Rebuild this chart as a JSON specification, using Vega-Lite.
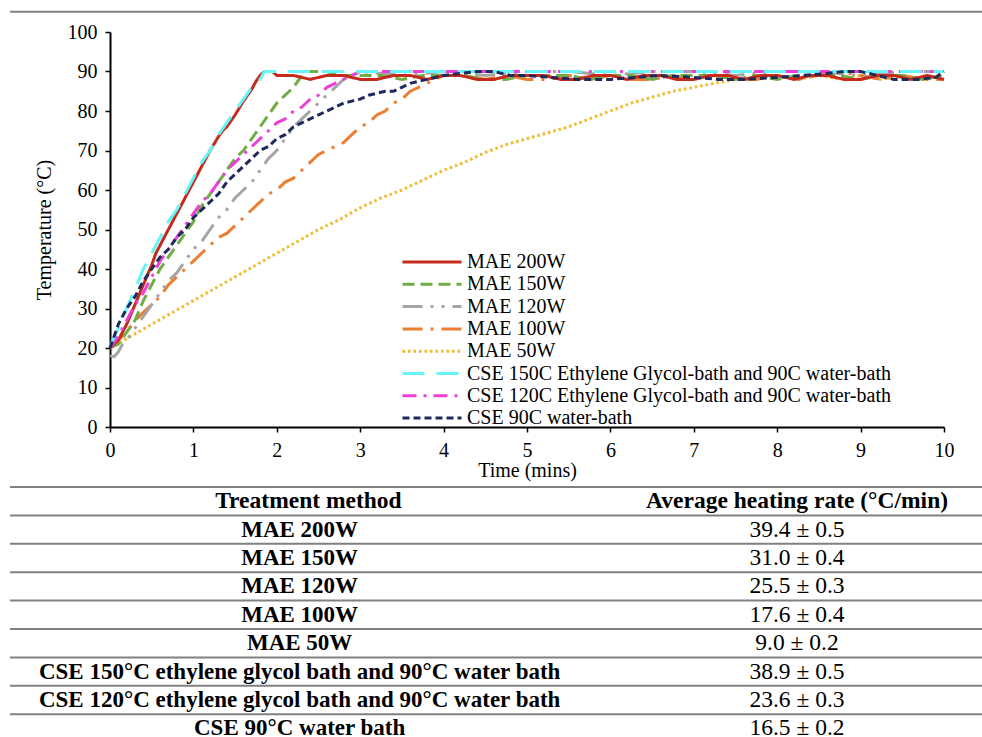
{
  "$schema": "https://vega.github.io/schema/vega-lite/v6.json",
  "width": 834,
  "height": 395,
  "autosize": {"type": "none"},
  "padding": {"left": 110, "top": 32, "right": 38, "bottom": 310},
  "background": "white",
  "config": {
    "font": "Liberation Serif",
    "view": {"stroke": null},
    "axis": {
      "domainColor": "black", "domainWidth": 2, "tickColor": "black", "tickWidth": 1.5, "tickSize": 5,
      "labelFont": "Liberation Serif", "labelFontSize": 20, "labelColor": "black", "labelPadding": 8, "labelFlush": false,
      "titleFont": "Liberation Serif", "titleFontSize": 20, "titleFontWeight": "normal", "titleColor": "black",
      "grid": false
    }
  },
  "datasets": {
    "curves": [
      {"series":"MAE 50W","time":0,"temp":20},{"series":"MAE 50W","time":0.25,"temp":23},{"series":"MAE 50W","time":0.5,"temp":26},{"series":"MAE 50W","time":0.75,"temp":29},{"series":"MAE 50W","time":1,"temp":32},{"series":"MAE 50W","time":1.25,"temp":35},{"series":"MAE 50W","time":1.5,"temp":38},{"series":"MAE 50W","time":1.75,"temp":41},{"series":"MAE 50W","time":2,"temp":44},{"series":"MAE 50W","time":2.25,"temp":47},{"series":"MAE 50W","time":2.5,"temp":50},{"series":"MAE 50W","time":2.75,"temp":52.5},{"series":"MAE 50W","time":3,"temp":55.5},{"series":"MAE 50W","time":3.25,"temp":58},{"series":"MAE 50W","time":3.5,"temp":60},{"series":"MAE 50W","time":3.75,"temp":62.5},{"series":"MAE 50W","time":4,"temp":65},{"series":"MAE 50W","time":4.25,"temp":67},{"series":"MAE 50W","time":4.5,"temp":69.5},{"series":"MAE 50W","time":4.75,"temp":71.5},{"series":"MAE 50W","time":5,"temp":73},{"series":"MAE 50W","time":5.25,"temp":74.5},{"series":"MAE 50W","time":5.5,"temp":76},{"series":"MAE 50W","time":5.75,"temp":78},{"series":"MAE 50W","time":6,"temp":80},{"series":"MAE 50W","time":6.25,"temp":82},{"series":"MAE 50W","time":6.5,"temp":83.5},{"series":"MAE 50W","time":6.75,"temp":85},{"series":"MAE 50W","time":7,"temp":86},{"series":"MAE 50W","time":7.25,"temp":87},{"series":"MAE 50W","time":7.5,"temp":88},{"series":"MAE 50W","time":7.75,"temp":88.5},{"series":"MAE 50W","time":8,"temp":89},{"series":"MAE 50W","time":8.25,"temp":88},{"series":"MAE 50W","time":8.5,"temp":89},{"series":"MAE 50W","time":8.75,"temp":88},{"series":"MAE 50W","time":9,"temp":89},{"series":"MAE 50W","time":9.25,"temp":88},{"series":"MAE 50W","time":9.5,"temp":89},{"series":"MAE 50W","time":9.75,"temp":88},{"series":"MAE 50W","time":10,"temp":89},

      {"series":"MAE 100W","time":0,"temp":20},{"series":"MAE 100W","time":0.1,"temp":22},{"series":"MAE 100W","time":0.2,"temp":24},{"series":"MAE 100W","time":0.3,"temp":27},{"series":"MAE 100W","time":0.4,"temp":29},{"series":"MAE 100W","time":0.5,"temp":31},{"series":"MAE 100W","time":0.6,"temp":33},{"series":"MAE 100W","time":0.7,"temp":36},{"series":"MAE 100W","time":0.8,"temp":38},{"series":"MAE 100W","time":0.9,"temp":40},{"series":"MAE 100W","time":1,"temp":42},{"series":"MAE 100W","time":1.1,"temp":44},{"series":"MAE 100W","time":1.2,"temp":46},{"series":"MAE 100W","time":1.3,"temp":48},{"series":"MAE 100W","time":1.4,"temp":49},{"series":"MAE 100W","time":1.5,"temp":51},{"series":"MAE 100W","time":1.6,"temp":53},{"series":"MAE 100W","time":1.7,"temp":55},{"series":"MAE 100W","time":1.8,"temp":57},{"series":"MAE 100W","time":1.9,"temp":59},{"series":"MAE 100W","time":2,"temp":60},{"series":"MAE 100W","time":2.1,"temp":62},{"series":"MAE 100W","time":2.2,"temp":63},{"series":"MAE 100W","time":2.3,"temp":65},{"series":"MAE 100W","time":2.4,"temp":67},{"series":"MAE 100W","time":2.5,"temp":69},{"series":"MAE 100W","time":2.6,"temp":70},{"series":"MAE 100W","time":2.7,"temp":71},{"series":"MAE 100W","time":2.8,"temp":72},{"series":"MAE 100W","time":2.9,"temp":74},{"series":"MAE 100W","time":3,"temp":76},{"series":"MAE 100W","time":3.1,"temp":77},{"series":"MAE 100W","time":3.2,"temp":79},{"series":"MAE 100W","time":3.3,"temp":80},{"series":"MAE 100W","time":3.4,"temp":82},{"series":"MAE 100W","time":3.5,"temp":83},{"series":"MAE 100W","time":3.6,"temp":85},{"series":"MAE 100W","time":3.7,"temp":86},{"series":"MAE 100W","time":3.8,"temp":87},{"series":"MAE 100W","time":3.9,"temp":88},{"series":"MAE 100W","time":4,"temp":89},{"series":"MAE 100W","time":4.25,"temp":89},{"series":"MAE 100W","time":4.5,"temp":88},{"series":"MAE 100W","time":4.75,"temp":89},{"series":"MAE 100W","time":5,"temp":88},{"series":"MAE 100W","time":5.25,"temp":88},{"series":"MAE 100W","time":5.5,"temp":89},{"series":"MAE 100W","time":5.75,"temp":88},{"series":"MAE 100W","time":6,"temp":89},{"series":"MAE 100W","time":6.25,"temp":88},{"series":"MAE 100W","time":6.5,"temp":88},{"series":"MAE 100W","time":6.75,"temp":89},{"series":"MAE 100W","time":7,"temp":88},{"series":"MAE 100W","time":7.25,"temp":89},{"series":"MAE 100W","time":7.5,"temp":88},{"series":"MAE 100W","time":7.75,"temp":88},{"series":"MAE 100W","time":8,"temp":89},{"series":"MAE 100W","time":8.25,"temp":88},{"series":"MAE 100W","time":8.5,"temp":89},{"series":"MAE 100W","time":8.75,"temp":90},{"series":"MAE 100W","time":9,"temp":89},{"series":"MAE 100W","time":9.25,"temp":88},{"series":"MAE 100W","time":9.5,"temp":89},{"series":"MAE 100W","time":9.75,"temp":88},{"series":"MAE 100W","time":10,"temp":88},

      {"series":"MAE 120W","time":0,"temp":18},{"series":"MAE 120W","time":0.05,"temp":17.8},{"series":"MAE 120W","time":0.1,"temp":19},{"series":"MAE 120W","time":0.15,"temp":21},{"series":"MAE 120W","time":0.2,"temp":22},{"series":"MAE 120W","time":0.3,"temp":25},{"series":"MAE 120W","time":0.4,"temp":28},{"series":"MAE 120W","time":0.5,"temp":31},{"series":"MAE 120W","time":0.6,"temp":34},{"series":"MAE 120W","time":0.7,"temp":37},{"series":"MAE 120W","time":0.8,"temp":39},{"series":"MAE 120W","time":0.9,"temp":42},{"series":"MAE 120W","time":1,"temp":45},{"series":"MAE 120W","time":1.1,"temp":47},{"series":"MAE 120W","time":1.2,"temp":50},{"series":"MAE 120W","time":1.3,"temp":53},{"series":"MAE 120W","time":1.4,"temp":55},{"series":"MAE 120W","time":1.5,"temp":58},{"series":"MAE 120W","time":1.6,"temp":60},{"series":"MAE 120W","time":1.7,"temp":62},{"series":"MAE 120W","time":1.8,"temp":65},{"series":"MAE 120W","time":1.9,"temp":68},{"series":"MAE 120W","time":2,"temp":70},{"series":"MAE 120W","time":2.1,"temp":73},{"series":"MAE 120W","time":2.2,"temp":76},{"series":"MAE 120W","time":2.3,"temp":78},{"series":"MAE 120W","time":2.4,"temp":80},{"series":"MAE 120W","time":2.5,"temp":82},{"series":"MAE 120W","time":2.6,"temp":84},{"series":"MAE 120W","time":2.7,"temp":86},{"series":"MAE 120W","time":2.8,"temp":88},{"series":"MAE 120W","time":2.9,"temp":89},{"series":"MAE 120W","time":3,"temp":90},{"series":"MAE 120W","time":3.5,"temp":89},{"series":"MAE 120W","time":4,"temp":90},{"series":"MAE 120W","time":4.5,"temp":89},{"series":"MAE 120W","time":5,"temp":90},{"series":"MAE 120W","time":5.5,"temp":90},{"series":"MAE 120W","time":6,"temp":89},{"series":"MAE 120W","time":6.5,"temp":90},{"series":"MAE 120W","time":7,"temp":90},{"series":"MAE 120W","time":7.5,"temp":89},{"series":"MAE 120W","time":8,"temp":90},{"series":"MAE 120W","time":8.5,"temp":90},{"series":"MAE 120W","time":9,"temp":89},{"series":"MAE 120W","time":9.5,"temp":90},{"series":"MAE 120W","time":10,"temp":90},

      {"series":"MAE 150W","time":0,"temp":20},{"series":"MAE 150W","time":0.1,"temp":21},{"series":"MAE 150W","time":0.2,"temp":24},{"series":"MAE 150W","time":0.3,"temp":27},{"series":"MAE 150W","time":0.4,"temp":32},{"series":"MAE 150W","time":0.5,"temp":36},{"series":"MAE 150W","time":0.6,"temp":40},{"series":"MAE 150W","time":0.7,"temp":43},{"series":"MAE 150W","time":0.8,"temp":46},{"series":"MAE 150W","time":0.9,"temp":49},{"series":"MAE 150W","time":1,"temp":52},{"series":"MAE 150W","time":1.1,"temp":56},{"series":"MAE 150W","time":1.2,"temp":59},{"series":"MAE 150W","time":1.3,"temp":62},{"series":"MAE 150W","time":1.4,"temp":65},{"series":"MAE 150W","time":1.5,"temp":68},{"series":"MAE 150W","time":1.6,"temp":70},{"series":"MAE 150W","time":1.7,"temp":73},{"series":"MAE 150W","time":1.8,"temp":76},{"series":"MAE 150W","time":1.9,"temp":79},{"series":"MAE 150W","time":2,"temp":82},{"series":"MAE 150W","time":2.1,"temp":84},{"series":"MAE 150W","time":2.2,"temp":86},{"series":"MAE 150W","time":2.3,"temp":89},{"series":"MAE 150W","time":2.35,"temp":90},{"series":"MAE 150W","time":2.5,"temp":90},{"series":"MAE 150W","time":2.6,"temp":90},{"series":"MAE 150W","time":2.75,"temp":89},{"series":"MAE 150W","time":3,"temp":89},{"series":"MAE 150W","time":3.25,"temp":89},{"series":"MAE 150W","time":3.5,"temp":88},{"series":"MAE 150W","time":3.75,"temp":89},{"series":"MAE 150W","time":4,"temp":89},{"series":"MAE 150W","time":4.25,"temp":89},{"series":"MAE 150W","time":4.5,"temp":88},{"series":"MAE 150W","time":4.75,"temp":88},{"series":"MAE 150W","time":5,"temp":89},{"series":"MAE 150W","time":5.25,"temp":89},{"series":"MAE 150W","time":5.5,"temp":89},{"series":"MAE 150W","time":5.75,"temp":88},{"series":"MAE 150W","time":6,"temp":89},{"series":"MAE 150W","time":6.25,"temp":89},{"series":"MAE 150W","time":6.5,"temp":88},{"series":"MAE 150W","time":6.75,"temp":89},{"series":"MAE 150W","time":7,"temp":89},{"series":"MAE 150W","time":7.25,"temp":89},{"series":"MAE 150W","time":7.5,"temp":88},{"series":"MAE 150W","time":7.75,"temp":89},{"series":"MAE 150W","time":8,"temp":88},{"series":"MAE 150W","time":8.25,"temp":89},{"series":"MAE 150W","time":8.5,"temp":89},{"series":"MAE 150W","time":8.75,"temp":89},{"series":"MAE 150W","time":9,"temp":88},{"series":"MAE 150W","time":9.25,"temp":89},{"series":"MAE 150W","time":9.5,"temp":89},{"series":"MAE 150W","time":9.75,"temp":88},{"series":"MAE 150W","time":10,"temp":89},

      {"series":"MAE 200W","time":0,"temp":20},{"series":"MAE 200W","time":0.1,"temp":22},{"series":"MAE 200W","time":0.2,"temp":26},{"series":"MAE 200W","time":0.3,"temp":31},{"series":"MAE 200W","time":0.4,"temp":36},{"series":"MAE 200W","time":0.5,"temp":41},{"series":"MAE 200W","time":0.55,"temp":44},{"series":"MAE 200W","time":0.6,"temp":46},{"series":"MAE 200W","time":0.7,"temp":50},{"series":"MAE 200W","time":0.8,"temp":54},{"series":"MAE 200W","time":0.9,"temp":58},{"series":"MAE 200W","time":1,"temp":62},{"series":"MAE 200W","time":1.1,"temp":66},{"series":"MAE 200W","time":1.2,"temp":70},{"series":"MAE 200W","time":1.3,"temp":73.5},{"series":"MAE 200W","time":1.35,"temp":75},{"series":"MAE 200W","time":1.4,"temp":76},{"series":"MAE 200W","time":1.5,"temp":79},{"series":"MAE 200W","time":1.6,"temp":82.5},{"series":"MAE 200W","time":1.65,"temp":84},{"series":"MAE 200W","time":1.7,"temp":85.5},{"series":"MAE 200W","time":1.75,"temp":87.5},{"series":"MAE 200W","time":1.8,"temp":89},{"series":"MAE 200W","time":1.85,"temp":90},{"series":"MAE 200W","time":1.95,"temp":90},{"series":"MAE 200W","time":2,"temp":89},{"series":"MAE 200W","time":2.2,"temp":89},{"series":"MAE 200W","time":2.4,"temp":88},{"series":"MAE 200W","time":2.6,"temp":89},{"series":"MAE 200W","time":2.8,"temp":89},{"series":"MAE 200W","time":3,"temp":88},{"series":"MAE 200W","time":3.2,"temp":88},{"series":"MAE 200W","time":3.4,"temp":89},{"series":"MAE 200W","time":3.6,"temp":89},{"series":"MAE 200W","time":3.8,"temp":88},{"series":"MAE 200W","time":4,"temp":89},{"series":"MAE 200W","time":4.2,"temp":89},{"series":"MAE 200W","time":4.4,"temp":88},{"series":"MAE 200W","time":4.6,"temp":88},{"series":"MAE 200W","time":4.8,"temp":89},{"series":"MAE 200W","time":5,"temp":89},{"series":"MAE 200W","time":5.2,"temp":89},{"series":"MAE 200W","time":5.4,"temp":88},{"series":"MAE 200W","time":5.6,"temp":88},{"series":"MAE 200W","time":5.8,"temp":89},{"series":"MAE 200W","time":6,"temp":89},{"series":"MAE 200W","time":6.2,"temp":88},{"series":"MAE 200W","time":6.4,"temp":89},{"series":"MAE 200W","time":6.6,"temp":89},{"series":"MAE 200W","time":6.8,"temp":88},{"series":"MAE 200W","time":7,"temp":88},{"series":"MAE 200W","time":7.2,"temp":89},{"series":"MAE 200W","time":7.4,"temp":89},{"series":"MAE 200W","time":7.6,"temp":88},{"series":"MAE 200W","time":7.8,"temp":89},{"series":"MAE 200W","time":8,"temp":89},{"series":"MAE 200W","time":8.2,"temp":88},{"series":"MAE 200W","time":8.4,"temp":89},{"series":"MAE 200W","time":8.6,"temp":89},{"series":"MAE 200W","time":8.8,"temp":88},{"series":"MAE 200W","time":9,"temp":88},{"series":"MAE 200W","time":9.2,"temp":89},{"series":"MAE 200W","time":9.4,"temp":89},{"series":"MAE 200W","time":9.6,"temp":88},{"series":"MAE 200W","time":9.8,"temp":89},{"series":"MAE 200W","time":10,"temp":88},

      {"series":"CSE 120C Ethylene Glycol-bath and 90C water-bath","time":0,"temp":20},{"series":"CSE 120C Ethylene Glycol-bath and 90C water-bath","time":0.1,"temp":23},{"series":"CSE 120C Ethylene Glycol-bath and 90C water-bath","time":0.2,"temp":27},{"series":"CSE 120C Ethylene Glycol-bath and 90C water-bath","time":0.3,"temp":31},{"series":"CSE 120C Ethylene Glycol-bath and 90C water-bath","time":0.4,"temp":34},{"series":"CSE 120C Ethylene Glycol-bath and 90C water-bath","time":0.5,"temp":38},{"series":"CSE 120C Ethylene Glycol-bath and 90C water-bath","time":0.6,"temp":42},{"series":"CSE 120C Ethylene Glycol-bath and 90C water-bath","time":0.7,"temp":45},{"series":"CSE 120C Ethylene Glycol-bath and 90C water-bath","time":0.8,"temp":48},{"series":"CSE 120C Ethylene Glycol-bath and 90C water-bath","time":0.9,"temp":51},{"series":"CSE 120C Ethylene Glycol-bath and 90C water-bath","time":1,"temp":54},{"series":"CSE 120C Ethylene Glycol-bath and 90C water-bath","time":1.1,"temp":57},{"series":"CSE 120C Ethylene Glycol-bath and 90C water-bath","time":1.2,"temp":59},{"series":"CSE 120C Ethylene Glycol-bath and 90C water-bath","time":1.3,"temp":62},{"series":"CSE 120C Ethylene Glycol-bath and 90C water-bath","time":1.4,"temp":65},{"series":"CSE 120C Ethylene Glycol-bath and 90C water-bath","time":1.5,"temp":67},{"series":"CSE 120C Ethylene Glycol-bath and 90C water-bath","time":1.6,"temp":69},{"series":"CSE 120C Ethylene Glycol-bath and 90C water-bath","time":1.7,"temp":71},{"series":"CSE 120C Ethylene Glycol-bath and 90C water-bath","time":1.8,"temp":73},{"series":"CSE 120C Ethylene Glycol-bath and 90C water-bath","time":1.9,"temp":75},{"series":"CSE 120C Ethylene Glycol-bath and 90C water-bath","time":2,"temp":77},{"series":"CSE 120C Ethylene Glycol-bath and 90C water-bath","time":2.1,"temp":78},{"series":"CSE 120C Ethylene Glycol-bath and 90C water-bath","time":2.2,"temp":80},{"series":"CSE 120C Ethylene Glycol-bath and 90C water-bath","time":2.3,"temp":81},{"series":"CSE 120C Ethylene Glycol-bath and 90C water-bath","time":2.4,"temp":83},{"series":"CSE 120C Ethylene Glycol-bath and 90C water-bath","time":2.5,"temp":84},{"series":"CSE 120C Ethylene Glycol-bath and 90C water-bath","time":2.6,"temp":86},{"series":"CSE 120C Ethylene Glycol-bath and 90C water-bath","time":2.7,"temp":87},{"series":"CSE 120C Ethylene Glycol-bath and 90C water-bath","time":2.8,"temp":88},{"series":"CSE 120C Ethylene Glycol-bath and 90C water-bath","time":2.9,"temp":89},{"series":"CSE 120C Ethylene Glycol-bath and 90C water-bath","time":3,"temp":90},{"series":"CSE 120C Ethylene Glycol-bath and 90C water-bath","time":10,"temp":90},

      {"series":"CSE 150C Ethylene Glycol-bath and 90C water-bath","time":0,"temp":20.5},{"series":"CSE 150C Ethylene Glycol-bath and 90C water-bath","time":0.1,"temp":25},{"series":"CSE 150C Ethylene Glycol-bath and 90C water-bath","time":0.2,"temp":30},{"series":"CSE 150C Ethylene Glycol-bath and 90C water-bath","time":0.3,"temp":35},{"series":"CSE 150C Ethylene Glycol-bath and 90C water-bath","time":0.4,"temp":40},{"series":"CSE 150C Ethylene Glycol-bath and 90C water-bath","time":0.5,"temp":44},{"series":"CSE 150C Ethylene Glycol-bath and 90C water-bath","time":0.6,"temp":48},{"series":"CSE 150C Ethylene Glycol-bath and 90C water-bath","time":0.7,"temp":52},{"series":"CSE 150C Ethylene Glycol-bath and 90C water-bath","time":0.8,"temp":55},{"series":"CSE 150C Ethylene Glycol-bath and 90C water-bath","time":0.9,"temp":59},{"series":"CSE 150C Ethylene Glycol-bath and 90C water-bath","time":1,"temp":63},{"series":"CSE 150C Ethylene Glycol-bath and 90C water-bath","time":1.1,"temp":67},{"series":"CSE 150C Ethylene Glycol-bath and 90C water-bath","time":1.2,"temp":70},{"series":"CSE 150C Ethylene Glycol-bath and 90C water-bath","time":1.3,"temp":74},{"series":"CSE 150C Ethylene Glycol-bath and 90C water-bath","time":1.4,"temp":77},{"series":"CSE 150C Ethylene Glycol-bath and 90C water-bath","time":1.5,"temp":80},{"series":"CSE 150C Ethylene Glycol-bath and 90C water-bath","time":1.6,"temp":83},{"series":"CSE 150C Ethylene Glycol-bath and 90C water-bath","time":1.7,"temp":86},{"series":"CSE 150C Ethylene Glycol-bath and 90C water-bath","time":1.8,"temp":88},{"series":"CSE 150C Ethylene Glycol-bath and 90C water-bath","time":1.85,"temp":90},{"series":"CSE 150C Ethylene Glycol-bath and 90C water-bath","time":10,"temp":90},

      {"series":"CSE 90C water-bath","time":0,"temp":20},{"series":"CSE 90C water-bath","time":0.1,"temp":26},{"series":"CSE 90C water-bath","time":0.2,"temp":30},{"series":"CSE 90C water-bath","time":0.3,"temp":33},{"series":"CSE 90C water-bath","time":0.4,"temp":37},{"series":"CSE 90C water-bath","time":0.5,"temp":40},{"series":"CSE 90C water-bath","time":0.6,"temp":43},{"series":"CSE 90C water-bath","time":0.7,"temp":45},{"series":"CSE 90C water-bath","time":0.8,"temp":48},{"series":"CSE 90C water-bath","time":0.9,"temp":50},{"series":"CSE 90C water-bath","time":1,"temp":53},{"series":"CSE 90C water-bath","time":1.1,"temp":55},{"series":"CSE 90C water-bath","time":1.2,"temp":57},{"series":"CSE 90C water-bath","time":1.3,"temp":59},{"series":"CSE 90C water-bath","time":1.4,"temp":62},{"series":"CSE 90C water-bath","time":1.5,"temp":64},{"series":"CSE 90C water-bath","time":1.6,"temp":66},{"series":"CSE 90C water-bath","time":1.7,"temp":68},{"series":"CSE 90C water-bath","time":1.8,"temp":70},{"series":"CSE 90C water-bath","time":1.9,"temp":71},{"series":"CSE 90C water-bath","time":2,"temp":73},{"series":"CSE 90C water-bath","time":2.1,"temp":74},{"series":"CSE 90C water-bath","time":2.2,"temp":76},{"series":"CSE 90C water-bath","time":2.3,"temp":77},{"series":"CSE 90C water-bath","time":2.4,"temp":78},{"series":"CSE 90C water-bath","time":2.5,"temp":79},{"series":"CSE 90C water-bath","time":2.6,"temp":80},{"series":"CSE 90C water-bath","time":2.7,"temp":81},{"series":"CSE 90C water-bath","time":2.8,"temp":82},{"series":"CSE 90C water-bath","time":2.9,"temp":82.5},{"series":"CSE 90C water-bath","time":3,"temp":83},{"series":"CSE 90C water-bath","time":3.1,"temp":84},{"series":"CSE 90C water-bath","time":3.2,"temp":84.5},{"series":"CSE 90C water-bath","time":3.3,"temp":85},{"series":"CSE 90C water-bath","time":3.4,"temp":85},{"series":"CSE 90C water-bath","time":3.5,"temp":86},{"series":"CSE 90C water-bath","time":3.6,"temp":87},{"series":"CSE 90C water-bath","time":3.7,"temp":87.5},{"series":"CSE 90C water-bath","time":3.8,"temp":88},{"series":"CSE 90C water-bath","time":3.9,"temp":88.5},{"series":"CSE 90C water-bath","time":4,"temp":89},{"series":"CSE 90C water-bath","time":4.2,"temp":89.5},{"series":"CSE 90C water-bath","time":4.4,"temp":90},{"series":"CSE 90C water-bath","time":4.6,"temp":90},{"series":"CSE 90C water-bath","time":4.8,"temp":89},{"series":"CSE 90C water-bath","time":5,"temp":89},{"series":"CSE 90C water-bath","time":5.3,"temp":88.5},{"series":"CSE 90C water-bath","time":5.6,"temp":88},{"series":"CSE 90C water-bath","time":6,"temp":88},{"series":"CSE 90C water-bath","time":6.3,"temp":88.5},{"series":"CSE 90C water-bath","time":6.6,"temp":89},{"series":"CSE 90C water-bath","time":7,"temp":88.5},{"series":"CSE 90C water-bath","time":7.3,"temp":88},{"series":"CSE 90C water-bath","time":7.6,"temp":88},{"series":"CSE 90C water-bath","time":8,"temp":88.5},{"series":"CSE 90C water-bath","time":8.3,"temp":89},{"series":"CSE 90C water-bath","time":8.6,"temp":89.5},{"series":"CSE 90C water-bath","time":8.8,"temp":90},{"series":"CSE 90C water-bath","time":9,"temp":90},{"series":"CSE 90C water-bath","time":9.2,"temp":89},{"series":"CSE 90C water-bath","time":9.4,"temp":88},{"series":"CSE 90C water-bath","time":9.7,"temp":88},{"series":"CSE 90C water-bath","time":9.9,"temp":88.5},{"series":"CSE 90C water-bath","time":10,"temp":90}
    ],
    "table": [
      {"row":0,"method":"Treatment method","rate":"Average heating rate (°C/min)"},
      {"row":1,"method":"MAE 200W","rate":"39.4 ± 0.5"},
      {"row":2,"method":"MAE 150W","rate":"31.0 ± 0.4"},
      {"row":3,"method":"MAE 120W","rate":"25.5 ± 0.3"},
      {"row":4,"method":"MAE 100W","rate":"17.6 ± 0.4"},
      {"row":5,"method":"MAE 50W","rate":"9.0 ± 0.2"},
      {"row":6,"method":"CSE 150°C ethylene glycol bath and 90°C water bath","rate":"38.9 ± 0.5"},
      {"row":7,"method":"CSE 120°C ethylene glycol bath and 90°C water bath","rate":"23.6 ± 0.3"},
      {"row":8,"method":"CSE 90°C water bath","rate":"16.5 ± 0.2"}
    ],
    "lines": [
      {"boundary":-17.23},{"boundary":-0.5},{"boundary":0.5},{"boundary":1.5},{"boundary":2.5},{"boundary":3.5},{"boundary":4.5},{"boundary":5.5},{"boundary":6.5},{"boundary":7.5}
    ]
  },
  "layer": [
    {
      "data": {"name": "lines"},
      "mark": {"type": "rule", "color": "#808080", "strokeWidth": 2, "clip": false},
      "encoding": {
        "x": {"datum": 0, "type": "quantitative", "scale": {"domain": [0, 1], "range": [-100, 872]}, "axis": null},
        "x2": {"datum": 1},
        "y": {"field": "boundary", "type": "quantitative", "scale": {"domain": [0, 8], "range": [469.2, 696.4]}, "axis": null}
      }
    },
    {
      "data": {"name": "table"},
      "transform": [{"filter": "datum.row == 0"}],
      "mark": {"type": "text", "fontWeight": "bold", "fontSize": 23.5, "font": "Liberation Serif", "color": "black", "align": "center", "baseline": "middle", "clip": false},
      "encoding": {
        "x": {"datum": 0.307, "type": "quantitative", "scale": {"domain": [0, 1], "range": [-100, 872]}, "axis": null},
        "y": {"field": "row", "type": "quantitative", "scale": {"domain": [0, 8], "range": [469.2, 696.4]}, "axis": null},
        "text": {"field": "method"}
      }
    },
    {
      "data": {"name": "table"},
      "transform": [{"filter": "datum.row == 0"}],
      "mark": {"type": "text", "fontWeight": "bold", "fontSize": 23.5, "font": "Liberation Serif", "color": "black", "align": "center", "baseline": "middle", "clip": false},
      "encoding": {
        "x": {"datum": 0.8097, "type": "quantitative", "scale": {"domain": [0, 1], "range": [-100, 872]}, "axis": null},
        "y": {"field": "row", "type": "quantitative", "scale": {"domain": [0, 8], "range": [469.2, 696.4]}, "axis": null},
        "text": {"field": "rate"}
      }
    },
    {
      "data": {"name": "table"},
      "transform": [{"filter": "datum.row > 0"}],
      "mark": {"type": "text", "fontWeight": "bold", "fontSize": 23, "font": "Liberation Serif", "color": "black", "align": "center", "baseline": "middle", "clip": false},
      "encoding": {
        "x": {"datum": 0.298, "type": "quantitative", "scale": {"domain": [0, 1], "range": [-100, 872]}, "axis": null},
        "y": {"field": "row", "type": "quantitative", "scale": {"domain": [0, 8], "range": [469.2, 696.4]}, "axis": null},
        "text": {"field": "method"}
      }
    },
    {
      "data": {"name": "table"},
      "transform": [{"filter": "datum.row > 0"}],
      "mark": {"type": "text", "fontSize": 23.5, "font": "Liberation Serif", "color": "black", "align": "center", "baseline": "middle", "clip": false},
      "encoding": {
        "x": {"datum": 0.8097, "type": "quantitative", "scale": {"domain": [0, 1], "range": [-100, 872]}, "axis": null},
        "y": {"field": "row", "type": "quantitative", "scale": {"domain": [0, 8], "range": [469.2, 696.4]}, "axis": null},
        "text": {"field": "rate"}
      }
    },
    {
      "data": {"name": "curves"},
      "mark": {"type": "line", "strokeWidth": 3, "clip": false},
      "encoding": {
        "x": {
          "field": "time", "type": "quantitative",
          "scale": {"domain": [0, 10], "nice": false},
          "axis": {"values": [0,1,2,3,4,5,6,7,8,9,10], "title": "Time (mins)", "titlePadding": 0}
        },
        "y": {
          "field": "temp", "type": "quantitative",
          "scale": {"domain": [0, 100], "nice": false},
          "axis": {"values": [0,10,20,30,40,50,60,70,80,90,100], "title": "Temperature (°C)", "titlePadding": 13}
        },
        "color": {
          "field": "series", "type": "nominal",
          "scale": {
            "domain": ["MAE 200W","MAE 150W","MAE 120W","MAE 100W","MAE 50W","CSE 150C Ethylene Glycol-bath and 90C water-bath","CSE 120C Ethylene Glycol-bath and 90C water-bath","CSE 90C water-bath"],
            "range": ["#C62A1C","#70AD47","#A5A5A5","#ED7D31","#F4B92B","#66F5F7","#EE3FD8","#1F2A5C"]
          },
          "legend": {
            "orient": "none", "legendX": 291, "legendY": 220, "title": null,
            "symbolType": "stroke", "symbolSize": 3481, "symbolStrokeWidth": 3, "clipHeight": 20,
            "labelFont": "Liberation Serif", "labelFontSize": 20, "labelColor": "black", "labelLimit": 700,
            "rowPadding": 2.3, "labelOffset": 4, "padding": 0
          }
        },
        "strokeDash": {
          "field": "series", "type": "nominal",
          "scale": {
            "domain": ["MAE 200W","MAE 150W","MAE 120W","MAE 100W","MAE 50W","CSE 150C Ethylene Glycol-bath and 90C water-bath","CSE 120C Ethylene Glycol-bath and 90C water-bath","CSE 90C water-bath"],
            "range": [[1,0],[12,6],[20,8,3,8,3,8],[20,8,3,8],[2.5,3],[22,12],[14,7,3,7],[7,4]]
          },
          "legend": {
            "orient": "none", "legendX": 291, "legendY": 220, "title": null,
            "symbolType": "stroke", "symbolSize": 3481, "symbolStrokeWidth": 3, "clipHeight": 20,
            "labelFont": "Liberation Serif", "labelFontSize": 20, "labelColor": "black", "labelLimit": 700,
            "rowPadding": 2.3, "labelOffset": 4, "padding": 0
          }
        }
      }
    }
  ],
  "resolve": {"scale": {"x": "independent", "y": "independent"}}
}
